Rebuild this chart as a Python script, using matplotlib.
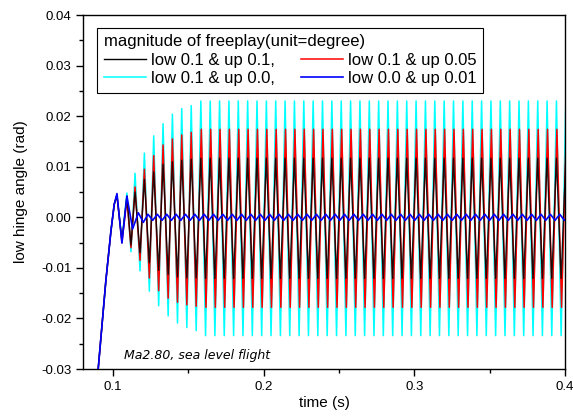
import numpy as np
import matplotlib.pyplot as plt
from matplotlib.ticker import MultipleLocator

# turning points (time in s, angle in rad)
rise_t = [0.087, 0.0900, 0.0951, 0.0985, 0.1007]
rise_v = [-0.0370, -0.0301, -0.0126, -0.0027, 0.0026]

trans_t = [0.1025, 0.1058, 0.1091, 0.1118, 0.1145, 0.1178, 0.1207, 0.1240, 0.1269,
           0.1302, 0.1331, 0.1365, 0.1393, 0.1427, 0.1455, 0.1489, 0.1518, 0.1551]
black_trans = [0.0042, -0.0045, 0.0042, -0.0055, 0.0050, -0.0070, 0.0075, -0.0090, 0.0090,
               -0.0105, 0.0105, -0.0113, 0.0110, -0.0118, 0.0113, -0.0120, 0.0115, -0.0120]
red_trans = [0.0044, -0.0050, 0.0036, -0.0060, 0.0060, -0.0085, 0.0095, -0.0120, 0.0122,
             -0.0145, 0.0143, -0.0160, 0.0155, -0.0168, 0.0163, -0.0173, 0.0168, -0.0176]
cyan_trans = [0.0044, -0.0045, 0.0048, -0.0068, 0.0087, -0.0106, 0.0127, -0.0146, 0.0161,
              -0.0175, 0.0185, -0.0195, 0.0204, -0.0209, 0.0215, -0.0218, 0.0221, -0.0224]

# steady state peak / trough of each case
black_steady = [0.0117, -0.0121]
red_steady = [0.0174, -0.0178]
cyan_steady = [0.0230, -0.0234]

# blue case: freeplay almost gone, small ripple around zero
blue_trans_t = [0.1025, 0.1058, 0.1091, 0.1129, 0.1167, 0.1200]
blue_trans = [0.0047, -0.0051, 0.0042, -0.0023, 0.0009, -0.0010]
blue_steady = [0.0006, -0.0006]

half_period = 0.003107  # read from spacing of the peaks


def build(tt, tv, steady, offset=0.0):
    t_st = np.arange(tt[-1] + half_period, 0.405, half_period) + offset
    v_st = np.resize(steady, len(t_st))
    t = np.concatenate([rise_t, tt, t_st])
    v = np.concatenate([rise_v, tv, v_st])
    return t, v


t_k, v_k = build(trans_t, black_trans, black_steady)
t_r, v_r = build(trans_t, red_trans, red_steady, 0.0003)
t_c, v_c = build(trans_t, cyan_trans, cyan_steady)
t_b, v_b = build(blue_trans_t, blue_trans, blue_steady)

plt.rcParams['font.family'] = ['Liberation Sans', 'DejaVu Sans']
fig = plt.figure(figsize=(5.73, 4.17), dpi=100)
ax = fig.add_axes([0.145, 0.115, 0.841, 0.849])

lc, = ax.plot(t_c, v_c, color='cyan', lw=1.1, label='low 0.1 & up 0.0,', zorder=2)
lr, = ax.plot(t_r, v_r, color='red', lw=1.1, label='low 0.1 & up 0.05', zorder=3)
lk, = ax.plot(t_k, v_k, color='black', lw=1.0, label='low 0.1 & up 0.1,', zorder=4, alpha=0.85)
lb, = ax.plot(t_b, v_b, color='blue', lw=1.2, label='low 0.0 & up 0.01', zorder=5)

ax.set_xlim(0.08, 0.4)
ax.set_ylim(-0.03, 0.04)
ax.xaxis.set_major_locator(MultipleLocator(0.1))
ax.xaxis.set_minor_locator(MultipleLocator(0.05))
ax.yaxis.set_major_locator(MultipleLocator(0.01))
ax.yaxis.set_minor_locator(MultipleLocator(0.005))
ax.yaxis.set_major_formatter(plt.FuncFormatter(lambda v, p: f'{v:.2f}'))
ax.tick_params(which='major', length=5, width=1, labelsize=9.5, direction='out')
ax.tick_params(which='minor', length=3, width=1, direction='out')
for s in ax.spines.values():
    s.set_linewidth(1)

ax.set_xlabel('time (s)', fontsize=11, labelpad=2)
ax.set_ylabel('low hinge angle (rad)', fontsize=11, labelpad=9)

ax.text(0.1073, -0.0273, 'Ma2.80, sea level flight', fontsize=9, style='italic',
        va='center', family='DejaVu Sans')

leg = ax.legend(handles=[lk, lc, lr, lb], ncol=2, loc='upper left',
                bbox_to_anchor=(0.012, 0.988), title='magnitude of freeplay(unit=degree)',
                fontsize=12, title_fontsize=12, fancybox=False, framealpha=1,
                edgecolor='black', handlelength=2.5, handletextpad=0.3,
                columnspacing=1.6, borderpad=0.4, labelspacing=0.2,
                alignment='left')
leg.get_frame().set_linewidth(0.8)
for h in leg.legend_handles:
    h.set_alpha(1)

fig.savefig('out.png', dpi=100)
